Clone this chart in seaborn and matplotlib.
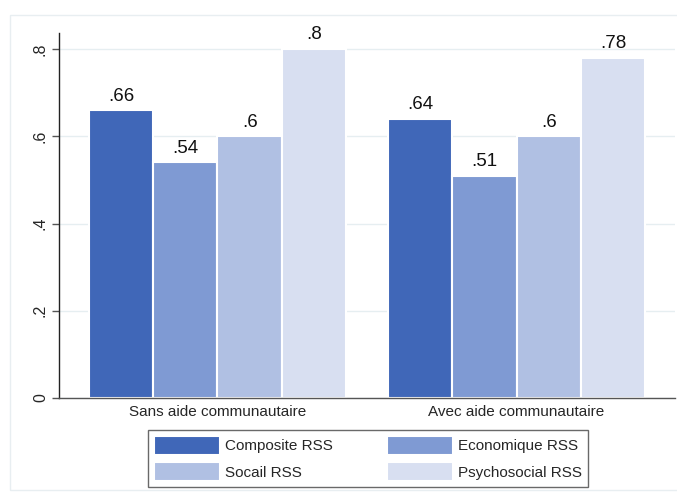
import pandas as pd
import matplotlib.pyplot as plt
import seaborn as sns
from matplotlib.patches import Rectangle

# Data
groups = ["Sans aide communautaire", "Avec aide communautaire"]
series = ["Composite RSS", "Economique RSS", "Socail RSS", "Psychosocial RSS"]
sans_aide = [0.66, 0.54, 0.60, 0.80]
avec_aide = [0.64, 0.51, 0.60, 0.78]
colors = ["#4067B8", "#7F9AD3", "#B0C0E3", "#D8DFF1"]
yticks = [0, 0.2, 0.4, 0.6, 0.8]
ytick_labels = ["0", ".2", ".4", ".6", ".8"]

df = pd.DataFrame({
    "group": [groups[0]] * 4 + [groups[1]] * 4,
    "series": series * 2,
    "value": sans_aide + avec_aide,
})

sns.set_style("white")
plt.rcParams["font.family"] = ["Liberation Sans", "DejaVu Sans"]

fig = plt.figure(figsize=(6.77, 4.92), dpi=100)
ax = fig.add_axes([59 / 677, 1 - 398 / 492, (675 - 59) / 677, (398 - 33) / 492])

sns.barplot(data=df, x="group", y="value", hue="series", hue_order=series,
            order=groups, palette=colors, width=0.86, edgecolor="white",
            linewidth=1.5, saturation=1, ax=ax)

# value labels above bars, Stata-style (no leading zero)
def fmt(v):
    return f"{v:.2f}".lstrip("0").rstrip("0")

for cont in ax.containers:
    ax.bar_label(cont, labels=[fmt(b.get_height()) for b in cont],
                 padding=4, fontsize=13.5, color="#111111")

ax.set_xlim(-0.53, 1.53)
ax.set_ylim(0, 0.8 + 16 / 436.25)
ax.set_yticks(yticks)
ax.set_yticklabels(ytick_labels, rotation=90, va="center", fontsize=11.5)
ax.tick_params(axis="y", length=5, width=1, color="#555555", pad=3, left=True)
ax.tick_params(axis="x", length=0, pad=5, labelsize=11)
ax.set_xlabel("")
ax.set_ylabel("")
ax.yaxis.grid(True, color="#E6EEF1", linewidth=1)
ax.set_axisbelow(True)
for s in ["top", "right"]:
    ax.spines[s].set_visible(False)
ax.spines["left"].set_color("#222222")
ax.spines["bottom"].set_color("#555555")
ax.spines["left"].set_linewidth(1)
ax.spines["bottom"].set_linewidth(1)

# legend below the plot, filled row by row like Stata
handles, labels = ax.get_legend_handles_labels()
ax.get_legend().remove()
order = [0, 2, 1, 3]
leg = fig.legend([handles[i] for i in order], [labels[i] for i in order],
                 ncol=2, loc="upper center",
                 bbox_to_anchor=(368 / 677, 1 - 430 / 492),
                 fontsize=11, handlelength=4.3, handleheight=1.5,
                 handletextpad=0.3, labelspacing=0.5, borderpad=0.4,
                 columnspacing=3.6, borderaxespad=0,
                 fancybox=False, frameon=True)
leg.get_frame().set_edgecolor("#444444")
leg.get_frame().set_linewidth(1)

# faint outer frame of the graph region
fig.patches.append(Rectangle((10 / 677, 2 / 492), 1.0, 1 - 17 / 492,
                             transform=fig.transFigure, fill=False,
                             edgecolor="#E8EEF1", linewidth=1))

fig.savefig("out.png", dpi=100)
